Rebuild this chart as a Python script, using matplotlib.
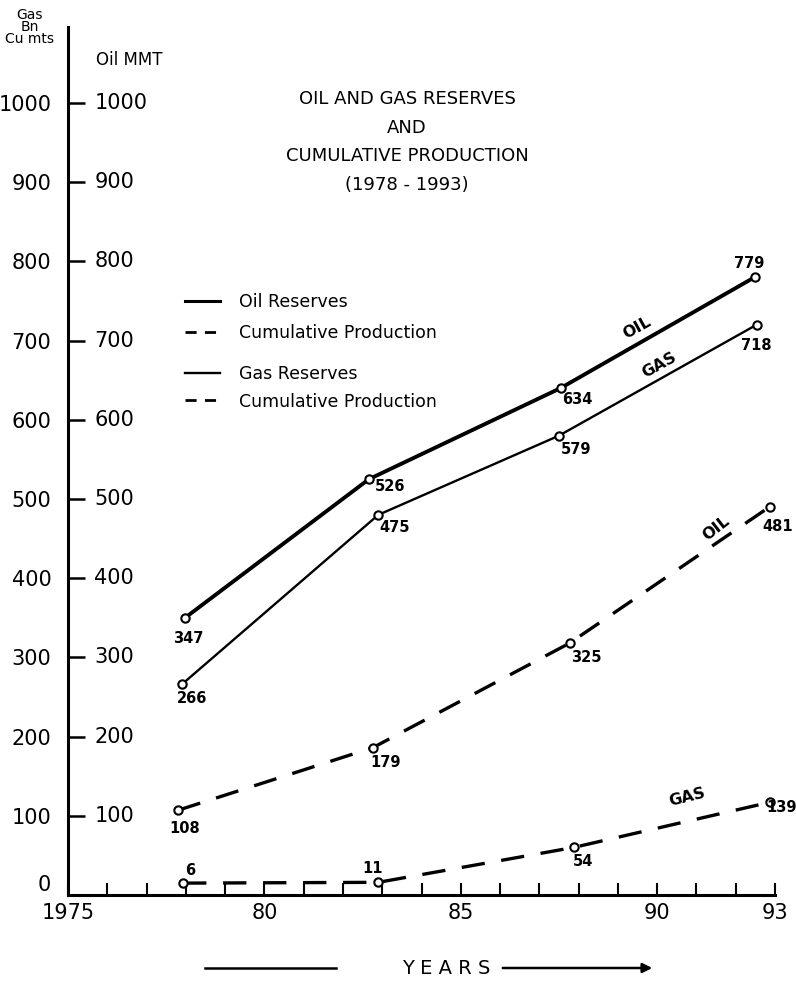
import matplotlib
matplotlib.use("Agg")
import matplotlib.pyplot as plt
from matplotlib.lines import Line2D

plt.rcParams['font.family'] = ['DejaVu Sans']

# ---- data ----
oil_res_x = [1977.98, 1982.66, 1987.54, 1992.48]
oil_res_y = [350, 525, 640, 780]
oil_res_lbl = ["347", "526", "634", "779"]

gas_res_x = [1977.9, 1982.9, 1987.5, 1992.53]
gas_res_y = [266, 480, 580, 720]
gas_res_lbl = ["266", "475", "579", "718"]

oil_cum_x = [1977.8, 1982.76, 1987.77, 1992.86]
oil_cum_y = [107, 186, 318, 490]
oil_cum_lbl = ["108", "179", "325", "481"]

gas_cum_x = [1977.93, 1982.9, 1987.87, 1992.86]
gas_cum_y = [15, 16, 60, 117]
gas_cum_lbl = ["6", "11", "54", "139"]

y_ticks = [0, 100, 200, 300, 400, 500, 600, 700, 800, 900, 1000]
x_major = [1975, 1980, 1985, 1990, 1993]
x_major_lbl = ["1975", "80", "85", "90", "93"]
x_minor = list(range(1975, 1994))

# ---- figure ----
W, H = 796, 982
fig = plt.figure(figsize=(W / 100, H / 100), dpi=100)
ax = fig.add_axes([68 / W, 87 / H, (775 - 68) / W, (895 - 27) / H])
ax.set_xlim(1975, 1993)
ax.set_ylim(0, 1096)

for s in ("top", "right"):
    ax.spines[s].set_visible(False)
for s in ("left", "bottom"):
    ax.spines[s].set_linewidth(2.2)

ax.set_yticks(y_ticks)
ax.set_yticklabels([str(v) for v in y_ticks])
ax.tick_params(axis='y', direction='in', length=12, width=1.8, pad=12,
               labelsize=15)
zero_lbl = ax.get_yticklabels()[0]
zero_lbl.set_verticalalignment('bottom')

ax.set_xticks(x_major)
ax.set_xticklabels(x_major_lbl)
ax.set_xticks(x_minor, minor=True)
ax.tick_params(axis='x', which='both', direction='in', length=9, width=1.5,
               pad=6, labelsize=15)

# right-hand (Oil MMT) labels next to the spine
for v in y_ticks[1:]:
    ax.annotate(str(v), xy=(0, v), xycoords=('axes fraction', 'data'),
                xytext=(19, 0), textcoords='offset points',
                ha='left', va='center', fontsize=15)

mk = dict(marker='o', markersize=6, markerfacecolor='white',
          markeredgecolor='black', markeredgewidth=1.5)
ax.plot(oil_res_x, oil_res_y, color='black', lw=2.8, solid_capstyle='round', **mk)
ax.plot(gas_res_x, gas_res_y, color='black', lw=1.7, **mk)
ax.plot(oil_cum_x, oil_cum_y, color='black', lw=2.4, dashes=(7, 5), **mk)
ax.plot(gas_cum_x, gas_cum_y, color='black', lw=2.4, dashes=(7, 5), **mk)

lbl_kw = dict(textcoords='offset points', ha='center', va='center',
              fontsize=10.5, fontweight='bold')
oil_res_off = [(2, -15), (15, -5), (12, -8), (-4, 10)]
gas_res_off = [(7, -10), (12, -9), (12, -10), (0, -15)]
oil_cum_off = [(5, -13), (9, -11), (12, -10), (6, -14)]
gas_cum_off = [(5, 9), (-4, 10), (7, -10), (9, -4)]
for xs, ys, ls, offs in [(oil_res_x, oil_res_y, oil_res_lbl, oil_res_off),
                         (gas_res_x, gas_res_y, gas_res_lbl, gas_res_off),
                         (oil_cum_x, oil_cum_y, oil_cum_lbl, oil_cum_off),
                         (gas_cum_x, gas_cum_y, gas_cum_lbl, gas_cum_off)]:
    for x, y, l, o in zip(xs, ys, ls, offs):
        ax.annotate(l, xy=(x, y), xytext=o, **lbl_kw)

# curve names
name_kw = dict(fontsize=11.5, fontweight='bold', ha='center', va='center')
ax.text(1989.5, 716, "OIL", rotation=29, **name_kw)
ax.text(1990.06, 669, "GAS", rotation=29, **name_kw)
ax.text(1991.5, 463, "OIL", rotation=38, **name_kw)
ax.text(1990.75, 123, "GAS", rotation=14, **name_kw)

# axis headings
fig.text(30 / W, 1 - 27 / H, "Gas\nBn\nCu mts", ha='center', va='center',
         fontsize=10, linespacing=0.85)
fig.text(96 / W, 1 - 60 / H, "Oil MMT", ha='left', va='center', fontsize=12)

# title
fig.text(407 / W, 1 - 142 / H,
         "OIL AND GAS RESERVES\nAND\nCUMULATIVE PRODUCTION\n(1978 - 1993)",
         ha='center', va='center', fontsize=13, linespacing=1.75)

# legends
leg_kw = dict(frameon=False, fontsize=12.5, handlelength=2.0,
              handletextpad=1.1, borderpad=0, borderaxespad=0,
              loc='upper left', bbox_transform=fig.transFigure)
h1 = [Line2D([], [], color='black', lw=2.2),
      Line2D([], [], color='black', lw=2.0, dashes=(4, 3))]
h2 = [Line2D([], [], color='black', lw=1.7),
      Line2D([], [], color='black', lw=2.0, dashes=(4, 3))]
leg1 = ax.legend(h1, ["Oil Reserves", "Cumulative Production"],
                 bbox_to_anchor=(185 / W, 1 - 293 / H), labelspacing=0.75,
                 **leg_kw)
ax.add_artist(leg1)
ax.legend(h2, ["Gas Reserves", "Cumulative Production"],
          bbox_to_anchor=(185 / W, 1 - 365 / H), labelspacing=0.55, **leg_kw)

# YEARS arrow
fig.text(446 / W, 1 - 968 / H, "Y E A R S", ha='center', va='center',
         fontsize=14)
fig.add_artist(Line2D([205 / W, 336 / W], [1 - 968 / H, 1 - 968 / H],
                      color='black', lw=1.8))
ax.annotate("", xy=(655 / W, 1 - 968 / H), xytext=(500 / W, 1 - 968 / H),
            xycoords='figure fraction', textcoords='figure fraction',
            arrowprops=dict(arrowstyle='-|>', color='black', lw=1.8,
                            mutation_scale=14))

fig.savefig("out.png", dpi=100)
